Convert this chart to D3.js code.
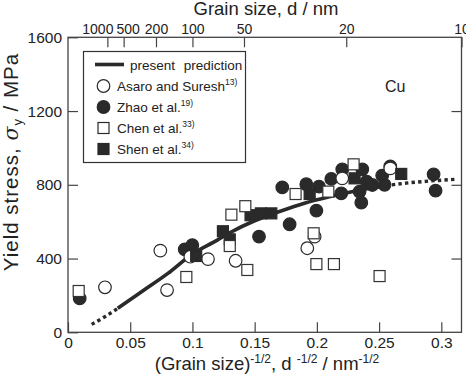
<!DOCTYPE html>
<html>
<head>
<meta charset="utf-8">
<script src="https://cdn.jsdelivr.net/npm/d3@7"></script>
<style>
  body { margin: 0; background: #fff; }
  text { font-family: "Liberation Sans", Arial, Helvetica, sans-serif; fill: #222; }
</style>
</head>
<body>
<script>
// x = d^-1/2 (nm^-1/2), y = yield stress (MPa)
const asaroX = [0.0297, 0.0742, 0.0796, 0.0983, 0.1125, 0.1347, 0.1923, 0.1982, 0.2204, 0.2590];
const asaroY = [244, 443, 229, 410, 397, 388, 456, 519, 835, 889];

const zhaoX = [0.0094, 0.0938, 0.0999, 0.1535, 0.1722, 0.1781, 0.1915, 0.1996, 0.2017, 0.2116, 0.2196,
               0.2204, 0.2343, 0.2357, 0.2365, 0.2400, 0.2446, 0.2525, 0.2544, 0.2590, 0.2938, 0.2954];
const zhaoY = [184, 450, 473, 519, 786, 586, 803, 660, 790, 832, 754,
               884, 763, 703, 884, 817, 799, 850, 800, 900, 857, 768];

const chenX = [0.0086, 0.0951, 0.1300, 0.1313, 0.1425, 0.1441, 0.1829, 0.1974, 0.1996, 0.2092, 0.2137, 0.2295, 0.2504];
const chenY = [224, 300, 468, 638, 684, 338, 750, 537, 370, 763, 370, 911, 305];

const shenX = [0.1030, 0.1245, 0.1300, 0.1467, 0.1550, 0.1634, 0.1942, 0.2303, 0.2678];
const shenY = [414, 548, 504, 635, 645, 645, 750, 835, 859];

// prediction curve
const predX = [0.019, 0.030, 0.040, 0.060, 0.080, 0.100, 0.120, 0.130, 0.150, 0.170, 0.190, 0.210, 0.230, 0.255, 0.270, 0.290, 0.312];
const predY = [43, 86, 130, 224, 318, 425, 500, 540, 605, 655, 700, 735, 765, 795, 808, 820, 830];
const solidFrom = 0.040, solidTo = 0.255;

const yTicks = [0, 400, 800, 1200, 1600];
const xTicks = [0, 0.05, 0.1, 0.15, 0.2, 0.25, 0.3];
const dTicks = [1000, 500, 200, 100, 50, 20, 10];

const W = 466, H = 376;
const m = {left: 68, right: 461.5, top: 37.3, bottom: 332.3};
const ink = "#2a2a2a";

const svg = d3.select("body").append("svg")
    .attr("width", W)
    .attr("height", H);

const x = d3.scaleLinear().domain([0, 1 / Math.sqrt(10)]).range([m.left, m.right]);
const y = d3.scaleLinear().domain([0, 1600]).range([m.bottom, m.top]);

// axes, ticks pointing inwards
const gb = svg.append("g")
    .attr("transform", "translate(0," + m.bottom + ")")
    .call(d3.axisBottom(x).tickValues(xTicks).tickFormat(d => d === 0 ? "0" : String(d))
        .tickSizeInner(-10).tickSizeOuter(0).tickPadding(5));
const gt = svg.append("g")
    .attr("transform", "translate(0," + m.top + ")")
    .call(d3.axisTop(x).tickValues(dTicks.map(d => 1 / Math.sqrt(d))).tickFormat((d, i) => dTicks[i])
        .tickSizeInner(-10).tickSizeOuter(0).tickPadding(3));
const gl = svg.append("g")
    .attr("transform", "translate(" + m.left + ",0)")
    .call(d3.axisLeft(y).tickValues(yTicks).tickFormat(d3.format("d")).tickSizeInner(-10).tickSizeOuter(0).tickPadding(6));
const gr = svg.append("g")
    .attr("transform", "translate(" + m.right + ",0)")
    .call(d3.axisRight(y).tickValues(yTicks.slice(1, 4)).tickFormat("").tickSizeInner(-10).tickSizeOuter(0));

[gb, gt, gl, gr].forEach(g => {
    g.select(".domain").remove();
    g.selectAll("line").attr("stroke", "#444").attr("stroke-width", 1.2);
    g.selectAll("text").attr("fill", "#222").attr("font-family", null);
});
gb.selectAll("text").attr("font-size", 15.5);
gl.selectAll("text").attr("font-size", 15.5);
// crowded labels at the left of the top axis are nudged apart
const topShift = [-10, 4, 0, 0, 0, 0, 0];
gt.selectAll("text").attr("font-size", 14).attr("dx", (d, i) => topShift[i]);

svg.append("rect")
    .attr("x", m.left).attr("y", m.top)
    .attr("width", m.right - m.left).attr("height", m.bottom - m.top)
    .attr("fill", "none").attr("stroke", "#444").attr("stroke-width", 1.3);

// axis titles
svg.append("text").attr("x", 266).attr("y", 15).attr("text-anchor", "middle")
    .attr("font-size", 18.5).text("Grain size,  d / nm");

const xt = svg.append("text").attr("x", 267).attr("y", 370).attr("text-anchor", "middle").attr("font-size", 18.5);
xt.append("tspan").text("(Grain size)");
xt.append("tspan").attr("font-size", 12).attr("dy", -7).text("-1/2");
xt.append("tspan").attr("dy", 7).text(",  d ");
xt.append("tspan").attr("font-size", 12).attr("dy", -7).text("-1/2");
xt.append("tspan").attr("dy", 7).text(" / nm");
xt.append("tspan").attr("font-size", 12).attr("dy", -7).text("-1/2");

const yt = svg.append("text").attr("transform", "translate(18,162) rotate(-90)")
    .attr("text-anchor", "middle").attr("font-size", 20.5).attr("letter-spacing", 1);
yt.append("tspan").text("Yield stress,  ");
yt.append("tspan").attr("font-family", "'DejaVu Serif', serif").attr("font-style", "italic").text("σ");
yt.append("tspan").attr("font-size", 13).attr("dy", 4).text("y");
yt.append("tspan").attr("dy", -4).text("   / MPa");

// prediction curve
const pred = predX.map((v, i) => [v, predY[i]]);
const line = d3.line().x(d => x(d[0])).y(d => y(d[1])).curve(d3.curveMonotoneX);
const plot = svg.append("g");
plot.append("path").datum(pred.filter(d => d[0] >= solidFrom && d[0] <= solidTo))
    .attr("d", line).attr("fill", "none").attr("stroke", ink).attr("stroke-width", 3.6);
plot.append("path").datum(pred.filter(d => d[0] <= solidFrom))
    .attr("d", line).attr("fill", "none").attr("stroke", ink).attr("stroke-width", 3.4).attr("stroke-dasharray", "3.4,3.2");
plot.append("path").datum(pred.filter(d => d[0] >= solidTo))
    .attr("d", line).attr("fill", "none").attr("stroke", ink).attr("stroke-width", 3.4).attr("stroke-dasharray", "3.4,3.2");

const R = 6.3, S = 11;
function circles(xs, ys, filled) {
    plot.append("g").selectAll("circle").data(xs).join("circle")
        .attr("cx", d => x(d)).attr("cy", (d, i) => y(ys[i])).attr("r", R)
        .attr("fill", filled ? ink : "#fff").attr("stroke", ink).attr("stroke-width", 1.2);
}
function squares(xs, ys, filled) {
    plot.append("g").selectAll("rect").data(xs).join("rect")
        .attr("x", d => x(d) - S / 2).attr("y", (d, i) => y(ys[i]) - S / 2)
        .attr("width", S).attr("height", S)
        .attr("fill", filled ? ink : "#fff").attr("stroke", filled ? ink : "#333").attr("stroke-width", 1.2);
}
circles(zhaoX, zhaoY, true);
circles(asaroX, asaroY, false);
squares(shenX, shenY, true);
squares(chenX, chenY, false);

// legend
const lg = svg.append("g");
lg.append("rect").attr("x", 83.5).attr("y", 51.5).attr("width", 162).attr("height", 111)
    .attr("fill", "#fff").attr("stroke", "#333").attr("stroke-width", 1.2);
lg.append("line").attr("x1", 95).attr("x2", 124).attr("y1", 64.5).attr("y2", 64.5)
    .attr("stroke", ink).attr("stroke-width", 3.6);
lg.append("text").attr("x", 130).attr("y", 69.5).attr("font-size", 13.5).attr("word-spacing", 5).text("present prediction");

const entries = [
    {name: "Asaro and Suresh", ref: "13)", shape: "circle", filled: false},
    {name: "Zhao et al.", ref: "19)", shape: "circle", filled: true},
    {name: "Chen et al.", ref: "33)", shape: "square", filled: false},
    {name: "Shen et al.", ref: "34)", shape: "square", filled: true}
];
entries.forEach((e, i) => {
    const cy = 86 + i * 21;
    if (e.shape === "circle") {
        lg.append("circle").attr("cx", 103.5).attr("cy", cy).attr("r", R)
            .attr("fill", e.filled ? ink : "#fff").attr("stroke", ink).attr("stroke-width", 1.2);
    } else {
        lg.append("rect").attr("x", 103.5 - S / 2).attr("y", cy - S / 2).attr("width", S).attr("height", S)
            .attr("fill", e.filled ? ink : "#fff").attr("stroke", ink).attr("stroke-width", 1.2);
    }
    const t = lg.append("text").attr("x", 117).attr("y", cy + 5).attr("font-size", 13.5);
    t.append("tspan").text(e.name);
    t.append("tspan").attr("font-size", 8.5).attr("dy", -6).text(e.ref);
});

svg.append("text").attr("x", 385).attr("y", 92).attr("font-size", 16).text("Cu");
</script>
</body>
</html>
